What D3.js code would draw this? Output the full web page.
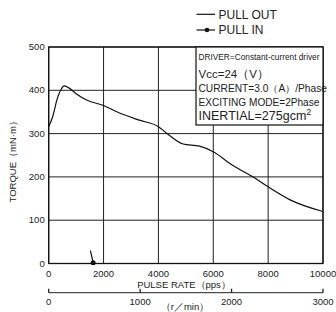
<!DOCTYPE html>
<html>
<head>
<meta charset="utf-8">
<script src="https://cdn.jsdelivr.net/npm/d3@7"></script>
<style>
  body { margin: 0; background: #fff; }
  text { font-family: "Liberation Sans", Arial, sans-serif; fill: #222; }
</style>
</head>
<body>
<div id="chart"></div>
<script>
// Chart size
const width = 336, height = 312;
const margin = { left: 48.7, right: 13, top: 47, bottom: 48.5 };

// Pull-out torque curve [pps, mN·m]
const pullOutPps = [0, 150, 300, 450, 570, 750, 1000, 1400, 2000, 2500, 3300, 4000, 4300, 4900, 5500, 6000, 6700, 7500, 8000, 8800, 10000];
const pullOutTorque = [316, 340, 378, 402, 410, 405, 392, 377, 365, 350, 331, 316, 301, 276, 271, 258, 227, 198, 177, 147, 120];

// Pull-in curve
const pullInPps = [1520, 1620];
const pullInTorque = [30, 2];

// Ticks
const xTicks = [0, 2000, 4000, 6000, 8000, 10000];
const yTicks = [0, 100, 200, 300, 400, 500];
const rpmTicks = [0, 1000, 2000, 3000];

const infoLines = [
  "DRIVER=Constant-current driver",
  "Vcc=24（V）",
  "CURRENT=3.0（A）/Phase",
  "EXCITING MODE=2Phase",
  "INERTIAL=275gcm"
];

const svg = d3.select("#chart").append("svg")
  .attr("width", width)
  .attr("height", height);

const x = d3.scaleLinear().domain([0, 10000]).range([margin.left, width - margin.right]);
const y = d3.scaleLinear().domain([0, 500]).range([height - margin.bottom, margin.top]);
const xr = d3.scaleLinear().domain([0, 3000]).range(x.range());

// Grid lines
svg.append("g")
  .selectAll("line.v")
  .data(xTicks)
  .join("line")
  .attr("x1", d => x(d)).attr("x2", d => x(d))
  .attr("y1", y(0)).attr("y2", y(500))
  .attr("stroke", "#222").attr("stroke-width", 1);

svg.append("g")
  .selectAll("line.h")
  .data(yTicks)
  .join("line")
  .attr("x1", x(0)).attr("x2", x(10000))
  .attr("y1", d => y(d)).attr("y2", d => y(d))
  .attr("stroke", "#222").attr("stroke-width", 1);

// Frame
svg.append("rect")
  .attr("x", x(0)).attr("y", y(500))
  .attr("width", x(10000) - x(0)).attr("height", y(0) - y(500))
  .attr("fill", "none").attr("stroke", "#111").attr("stroke-width", 1.3);

// Tick labels
svg.append("g")
  .selectAll("text")
  .data(yTicks)
  .join("text")
  .attr("x", x(0) - 4)
  .attr("y", d => y(d) + 3)
  .attr("text-anchor", "end")
  .attr("font-size", 9.5)
  .text(d => d);

svg.append("g")
  .selectAll("text")
  .data(xTicks)
  .join("text")
  .attr("x", d => x(d))
  .attr("y", y(0) + 13)
  .attr("text-anchor", "middle")
  .attr("font-size", 9.5)
  .text(d => d);

// Axis titles
svg.append("text")
  .attr("transform", `translate(16,${(y(0) + y(500)) / 2 + 4}) rotate(-90)`)
  .attr("text-anchor", "middle")
  .attr("font-size", 9.5)
  .text("TORQUE（mN·m）");

svg.append("text")
  .attr("x", 184).attr("y", y(0) + 24)
  .attr("text-anchor", "middle")
  .attr("font-size", 9.5)
  .text("PULSE RATE（pps）");

// Secondary r/min axis
const rpmY = 292.7;
svg.append("line")
  .attr("x1", xr(0)).attr("x2", xr(3000))
  .attr("y1", rpmY).attr("y2", rpmY)
  .attr("stroke", "#222").attr("stroke-width", 1);

svg.append("g")
  .selectAll("line")
  .data(rpmTicks)
  .join("line")
  .attr("x1", d => xr(d)).attr("x2", d => xr(d))
  .attr("y1", rpmY).attr("y2", rpmY - 4)
  .attr("stroke", "#222").attr("stroke-width", 1.3);

svg.append("g")
  .selectAll("text")
  .data(rpmTicks)
  .join("text")
  .attr("x", d => xr(d))
  .attr("y", rpmY + 12)
  .attr("text-anchor", "middle")
  .attr("font-size", 9.5)
  .text(d => d);

svg.append("text")
  .attr("x", 185).attr("y", 310)
  .attr("text-anchor", "middle")
  .attr("font-size", 9.5)
  .text("（r／min）");

// Curves
const line = d3.line()
  .x(d => x(d[0]))
  .y(d => y(d[1]))
  .curve(d3.curveMonotoneX);

svg.append("path")
  .datum(d3.zip(pullOutPps, pullOutTorque))
  .attr("d", line)
  .attr("fill", "none")
  .attr("stroke", "#111")
  .attr("stroke-width", 1.2);

const pullIn = d3.zip(pullInPps, pullInTorque);
svg.append("path")
  .datum(pullIn)
  .attr("d", d3.line().x(d => x(d[0])).y(d => y(d[1])))
  .attr("fill", "none")
  .attr("stroke", "#111")
  .attr("stroke-width", 1.2);

svg.append("circle")
  .attr("cx", x(pullIn[1][0])).attr("cy", y(pullIn[1][1]))
  .attr("r", 2.5).attr("fill", "#111");

// Info box
const box = svg.append("g");
box.append("rect")
  .attr("x", 196).attr("y", y(500))
  .attr("width", x(10000) - 196).attr("height", 78)
  .attr("fill", "#fff").attr("stroke", "#111").attr("stroke-width", 1.2);

const lineY = [60, 77.5, 91.5, 105.5, 119.5];
const lineSize = [9, 11.5, 10.2, 10.1, 12.5];
const lineLen = [121, 0, 0, 0, 0];
box.selectAll("text")
  .data(infoLines)
  .join("text")
  .attr("x", 198.5)
  .attr("y", (d, i) => lineY[i])
  .attr("font-size", (d, i) => lineSize[i])
  .each(function (d, i) {
    if (lineLen[i]) d3.select(this).attr("textLength", lineLen[i]).attr("lengthAdjust", "spacingAndGlyphs");
  })
  .text(d => d);

box.select("text:last-child")
  .append("tspan")
  .attr("dy", -5)
  .attr("font-size", 9)
  .text("2");

// Legend
const legend = svg.append("g");
legend.append("line")
  .attr("x1", 196.5).attr("x2", 215).attr("y1", 14.3).attr("y2", 14.3)
  .attr("stroke", "#111").attr("stroke-width", 1.2);
legend.append("text")
  .attr("x", 218.5).attr("y", 18.5)
  .attr("font-size", 12)
  .text("PULL OUT");
legend.append("line")
  .attr("x1", 196.5).attr("x2", 215).attr("y1", 30).attr("y2", 30)
  .attr("stroke", "#111").attr("stroke-width", 1.2);
legend.append("circle")
  .attr("cx", 207).attr("cy", 30).attr("r", 2.3).attr("fill", "#111");
legend.append("text")
  .attr("x", 218.5).attr("y", 34.2)
  .attr("font-size", 12)
  .text("PULL IN");
</script>
</body>
</html>
